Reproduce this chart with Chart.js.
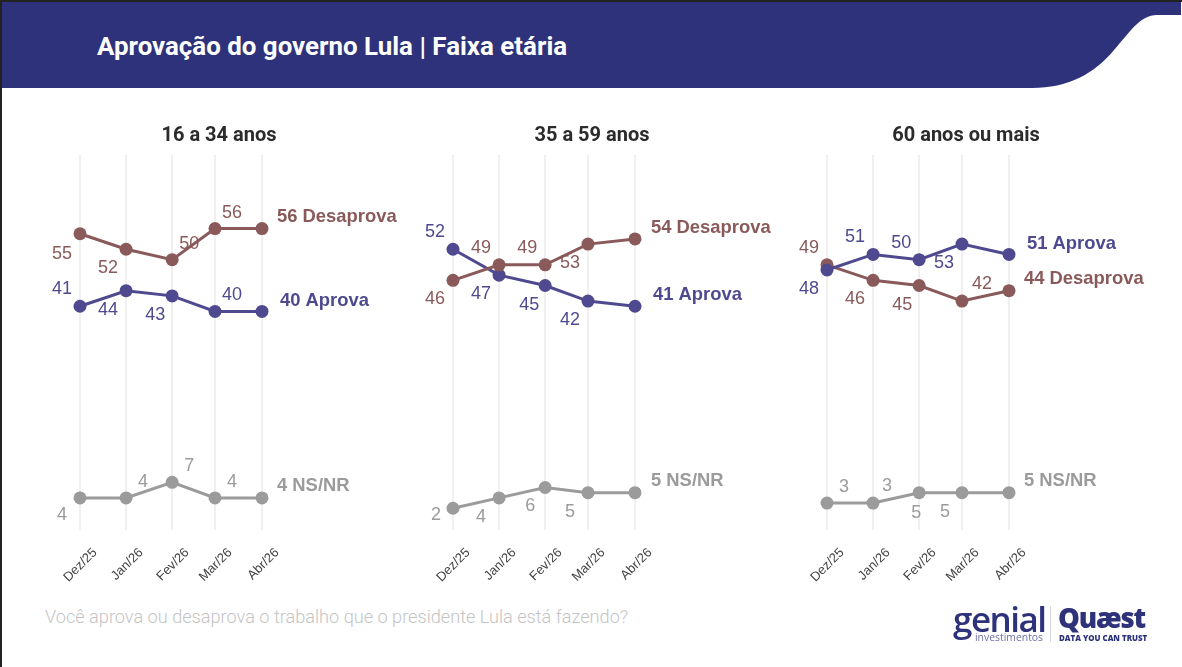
<!DOCTYPE html>
<html lang="pt-BR">
<head>
<meta charset="utf-8">
<title>Aprovação do governo Lula | Faixa etária</title>
<script src="https://cdn.jsdelivr.net/npm/chart.js@4"></script>
<style>
  html, body { margin: 0; padding: 0; background: #fff; }
  body { position: relative; width: 1182px; height: 667px; overflow: hidden; font-family: Roboto, sans-serif; }
  .edge-top { position: absolute; left: 0; top: 0; width: 1182px; height: 2px; background: #222; }
  .edge-left { position: absolute; left: 0; top: 0; width: 2px; height: 667px; background: #222; }
  .banner { position: absolute; left: 2px; top: 2px; }
  h1 { position: absolute; left: 97px; top: 31px; margin: 0; font: 700 25.9px/30px Roboto, sans-serif; color: #fff; white-space: nowrap; }
  canvas { position: absolute; top: 120px; }
  .question { position: absolute; left: 45px; top: 606px; font: 300 18.15px/22px Roboto, sans-serif; color: #c4c4c4; white-space: nowrap; }
  .logo { position: absolute; white-space: nowrap; color: #2d327b; }
  .divider { position: absolute; left: 1050px; top: 606px; width: 1px; height: 36px; background: #d5d6e6; }
</style>
</head>
<body>
<svg class="banner" width="1180" height="88" viewBox="0 0 1180 88">
  <path d="M0 0H1179V13H1155C1138 13 1128 30 1112 48C1092 72 1066 86 1030 86H0Z" fill="#2d327b"/>
</svg>
<div class="edge-top"></div>
<div class="edge-left"></div>
<h1>Aprovação do governo Lula | Faixa etária</h1>

<canvas id="young" width="398" height="480" style="left:20px"></canvas>
<canvas id="middle" width="398" height="480" style="left:393px"></canvas>
<canvas id="older" width="398" height="480" style="left:767px"></canvas>

<div class="question">Você aprova ou desaprova o trabalho que o presidente Lula está fazendo?</div>
<div class="logo" style="left:953px;top:599px;font:600 35px/40px 'Open Sans',sans-serif;letter-spacing:-1.5px">genial</div>
<div class="logo" style="left:975px;top:631px;font:400 10.4px/12px 'Open Sans',sans-serif;color:#6d70a6">investimentos</div>
<div class="divider"></div>
<div class="logo" style="left:1058px;top:601px;font:800 27.5px/34px 'Open Sans',sans-serif;letter-spacing:-1.2px">Quæst</div>
<div class="logo" style="left:1059px;top:633px;font:800 7.9px/10px 'Open Sans',sans-serif">DATA YOU CAN TRUST</div>

<script>
const months = ['Dez/25', 'Jan/26', 'Fev/26', 'Mar/26', 'Abr/26'];
// survey dates are not evenly spaced, position in months after the first one
const surveyMonths = [0, 1, 2, 2.93, 3.95];

const youngAprova = [41, 44, 43, 40, 40];
const youngDesaprova = [55, 52, 50, 56, 56];
const youngNsnr = [4, 4, 7, 4, 4];

const middleAprova = [52, 47, 45, 42, 41];
const middleDesaprova = [46, 49, 49, 53, 54];
const middleNsnr = [2, 4, 6, 5, 5];

const olderAprova = [48, 51, 50, 53, 51];
const olderDesaprova = [49, 46, 45, 42, 44];
const olderNsnr = [3, 3, 5, 5, 5];

const colors = { aprova: '#4f4a8f', desaprova: '#8a5a5a', nsnr: '#9b9b9b' };

// where each value label sits around its point, the last point has a name label instead
const UL = [-18, -17], UR = [17, -16], DL = [-18, 19];

function series(name, data, color, offsets, endOffset) {
  return {
    label: name,
    data: data.map((v, i) => ({ x: surveyMonths[i], y: v })),
    borderColor: color,
    backgroundColor: color,
    borderWidth: 3,
    pointRadius: 6.5,
    pointBorderWidth: 0,
    pointHoverRadius: 6.5,
    clip: false,
    offsets: offsets,
    endOffset: endOffset
  };
}

// value labels and the bold "56 Desaprova" names on the right
const pointLabels = {
  id: 'pointLabels',
  afterDatasetsDraw(chart) {
    const ctx = chart.ctx;
    chart.data.datasets.forEach((ds, d) => {
      const pts = chart.getDatasetMeta(d).data;
      ctx.save();
      ctx.fillStyle = ds.borderColor;
      ctx.textBaseline = 'middle';
      ctx.textAlign = 'center';
      ctx.font = "18px 'Liberation Sans', Arial, sans-serif";
      ds.offsets.forEach((o, i) => {
        ctx.fillText(ds.data[i].y, pts[i].x + o[0], pts[i].y + o[1]);
      });
      const last = pts[pts.length - 1];
      ctx.textAlign = 'left';
      ctx.font = "bold 18.4px 'Liberation Sans', Arial, sans-serif";
      ctx.fillText(ds.data[ds.data.length - 1].y + ' ' + ds.label, last.x + ds.endOffset[0], last.y + ds.endOffset[1]);
      ctx.restore();
    });
  }
};

function drawPanel(id, title, datasets) {
  new Chart(document.getElementById(id), {
    type: 'line',
    data: { datasets: datasets },
    plugins: [pointLabels],
    options: {
      responsive: false,
      animation: false,
      plugins: {
        legend: { display: false },
        tooltip: { enabled: false },
        title: {
          display: true,
          text: title,
          color: '#2b2b2b',
          font: { family: 'Roboto', size: 20, weight: '700', lineHeight: 1.2 },
          padding: { top: 4, bottom: 7 }
        }
      },
      scales: {
        // both y axes are invisible, they only reserve the room beside the plot
        y: {
          min: -2.2,
          max: 70.2,
          grid: { display: false },
          border: { display: false },
          ticks: { display: false },
          afterFit(axis) { axis.width = 60; }
        },
        side: {
          axis: 'y',
          position: 'right',
          grid: { display: false },
          border: { display: false },
          ticks: { display: false },
          afterFit(axis) { axis.width = 156; }
        },
        x: {
          type: 'linear',
          min: 0,
          max: 3.95,
          afterBuildTicks(axis) { axis.ticks = surveyMonths.map(v => ({ value: v })); },
          afterFit(axis) { axis.height = 70; },
          border: { display: false },
          grid: { color: '#f0f0f0', lineWidth: 2, drawTicks: false },
          ticks: {
            autoSkip: false,
            minRotation: 45,
            maxRotation: 45,
            padding: 15,
            labelOffset: 15,
            color: '#444',
            font: { family: "'Liberation Sans', Arial, sans-serif", size: 13 },
            callback: (v, i) => months[i]
          }
        }
      }
    }
  });
}

drawPanel('young', '16 a 34 anos', [
  series('Desaprova', youngDesaprova, colors.desaprova, [[-18, 20], DL, UR, UR], [15, -12]),
  series('Aprova', youngAprova, colors.aprova, [UL, DL, [-17, 19], UR], [18, -11]),
  series('NS/NR', youngNsnr, colors.nsnr, [[-18, 17], UR, UR, UR], [15, -12])
]);

drawPanel('middle', '35 a 59 anos', [
  series('Desaprova', middleDesaprova, colors.desaprova, [DL, UL, UL, DL], [16, -11]),
  series('Aprova', middleAprova, colors.aprova, [UL, DL, [-16, 20], DL], [18, -11]),
  series('NS/NR', middleNsnr, colors.nsnr, [[-17, 7], DL, [-15, 19], DL], [16, -12])
]);

drawPanel('older', '60 anos ou mais', [
  series('Aprova', olderAprova, colors.aprova, [DL, UL, UL, DL], [18, -11]),
  series('Desaprova', olderDesaprova, colors.desaprova, [UL, DL, [-17, 20], [20, -17]], [15, -12]),
  series('NS/NR', olderNsnr, colors.nsnr, [UR, [14, -17], [-3, 20], [-17, 19]], [15, -12])
]);
</script>
</body>
</html>
